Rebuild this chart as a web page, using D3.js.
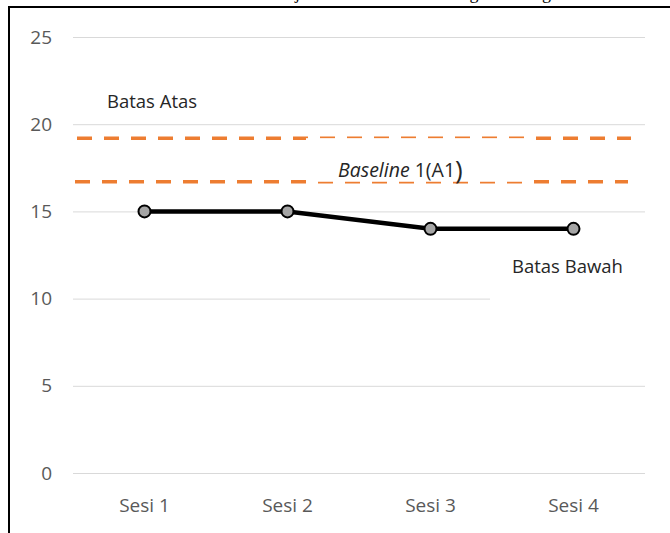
<!DOCTYPE html>
<html>
<head>
<meta charset="utf-8">
<script src="https://cdn.jsdelivr.net/npm/d3@7"></script>
<style>
  body { margin: 0; background: #fff; }
  svg { display: block; }
</style>
</head>
<body>
<script>
'use strict';

// data
const sessions = ['Sesi 1', 'Sesi 2', 'Sesi 3', 'Sesi 4'];
const scores = [15, 15, 14, 14];
const yTicks = [0, 5, 10, 15, 20, 25];
const limits = [19.2, 16.7];          // batas atas, baseline mean
const titleText = 'Grafik Hasil Subjek dalam Baseline Mengenal Bangun Datar';

const W = 670, H = 533;
const plot = { left: 73, right: 645, top: 37, bottom: 473 };
const orange = '#ed7d31';

let svg = d3.select('body').append('svg').attr('width', W).attr('height', H);

let x = d3.scaleBand().domain(sessions).range([plot.left, plot.right]).padding(0);
let y = d3.scaleLinear().domain([0, 25]).range([plot.bottom, plot.top]);
let cx = (d) => x(d) + x.bandwidth() / 2;

// cut-off title above the frame: only the descenders show
let title = svg.append('text')
  .attr('x', 0).attr('y', -1)
  .attr('font-family', 'Liberation Serif').attr('font-size', 18)
  .attr('fill', '#000')
  .text(titleText);
let jPos = title.node().getStartPositionOfChar(titleText.indexOf('j')).x;
title.attr('x', 295 - jPos);

// frame
svg.append('line').attr('x1', 8).attr('x2', W).attr('y1', 7).attr('y2', 7)
  .attr('stroke', '#000').attr('stroke-width', 2);
svg.append('line').attr('x1', 9).attr('x2', 9).attr('y1', 6).attr('y2', H)
  .attr('stroke', '#000').attr('stroke-width', 2);

// y axis: gridlines + labels
let yAxis = d3.axisLeft(y).tickValues(yTicks).tickSize(-(plot.right - plot.left)).tickPadding(21);
let gy = svg.append('g').attr('transform', 'translate(' + plot.left + ',0)').call(yAxis);
gy.select('.domain').remove();
gy.selectAll('.tick line').attr('stroke', '#d9d9d9').attr('stroke-width', 1);
gy.selectAll('.tick text')
  .attr('font-family', 'Open Sans').attr('font-size', 19).attr('fill', '#595959');

// x axis labels
let xAxis = d3.axisBottom(x).tickSize(0).tickPadding(26);
let gx = svg.append('g').attr('transform', 'translate(0,' + plot.bottom + ')').call(xAxis);
gx.select('.domain').remove();
gx.selectAll('.tick text')
  .attr('font-family', 'Open Sans').attr('font-size', 19).attr('fill', '#595959');

// white box behind "Batas Bawah" hides the end of the 10 gridline
svg.append('rect').attr('x', 490).attr('y', 238).attr('width', 165).attr('height', 70).attr('fill', '#fff');

// dashed limit lines
svg.append('line').attr('x1', 77).attr('x2', 631)
  .attr('y1', y(limits[0])).attr('y2', y(limits[0]))
  .attr('stroke', orange).attr('stroke-width', 3.5).attr('stroke-dasharray', '15 12');
svg.append('line').attr('x1', 75).attr('x2', 628)
  .attr('y1', y(limits[1])).attr('y2', y(limits[1]))
  .attr('stroke', orange).attr('stroke-width', 3.5).attr('stroke-dasharray', '15 12');

// text box of the baseline label covers half of each dashed line
svg.append('rect').attr('x', 306).attr('y', y(limits[0]))
  .attr('width', 221).attr('height', y(limits[1]) - y(limits[0])).attr('fill', '#fff');

// data line
let line = d3.line().x((d, i) => cx(sessions[i])).y((d) => y(d));
svg.append('path').datum(scores)
  .attr('d', line).attr('fill', 'none').attr('stroke', '#000').attr('stroke-width', 4.5);
svg.selectAll('circle.pt').data(scores).enter().append('circle')
  .attr('class', 'pt')
  .attr('cx', (d, i) => cx(sessions[i])).attr('cy', (d) => y(d))
  .attr('r', 6).attr('fill', '#a5a5a5').attr('stroke', '#000').attr('stroke-width', 2);

// labels
let lbl = { 'font-family': 'Open Sans', 'font-size': 18.5, fill: '#262626' };
function label(tx, ty, str) {
  let t = svg.append('text').attr('x', tx).attr('y', ty);
  for (let k in lbl) t.attr(k, lbl[k]);
  t.text(str);
  return t;
}
label(107, 108, 'Batas Atas');
label(512, 273, 'Batas Bawah');

let base = svg.append('text').attr('x', 338).attr('y', 177);
for (let k in lbl) base.attr(k, lbl[k]);
base.attr('font-size', 19.5);
base.append('tspan').attr('font-style', 'italic').text('Baseline');
base.append('tspan').text(' 1(A1');
base.append('tspan').attr('font-size', 26).attr('dy', 2).text(')');
</script>
</body>
</html>
